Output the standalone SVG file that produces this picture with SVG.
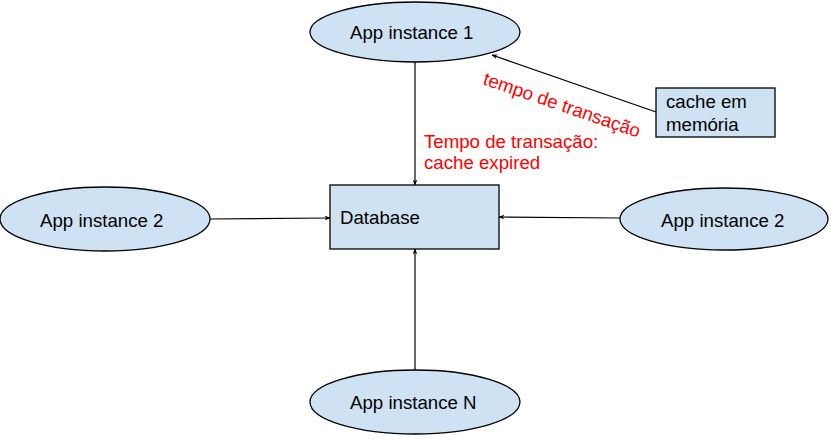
<svg xmlns="http://www.w3.org/2000/svg" width="831" height="442" viewBox="0 0 831 442">
<style>
.node{fill:#cfe2f3;stroke:#000;stroke-width:1.3}
.lbl{font-family:"Liberation Sans",Arial,sans-serif;font-size:18.67px;fill:#000}
.red{font-family:"Liberation Sans",Arial,sans-serif;font-size:18.67px;fill:#ff0000}
.edge{stroke:#000;stroke-width:1.2;fill:none;marker-end:url(#ah)}
</style>
<defs>
<marker id="ah" viewBox="0 0 10 10" refX="9" refY="5" markerWidth="6" markerHeight="6" markerUnits="userSpaceOnUse" orient="auto">
<path d="M0,1 L10,5 L0,9 L3,5 Z" fill="#000"/>
</marker>
</defs>
<rect width="831" height="442" fill="#fff"/>
<g id="connectors">
<line class="edge" x1="415" y1="62" x2="415" y2="185"/>
<line class="edge" x1="210" y1="219" x2="330" y2="218"/>
<line class="edge" x1="620" y1="218" x2="499" y2="217"/>
<line class="edge" x1="415" y1="370" x2="415" y2="249"/>
<line class="edge" x1="656" y1="112" x2="492" y2="55"/>
</g>
<g id="app1">
<ellipse class="node" cx="415" cy="32" rx="105" ry="30"/>
<text class="lbl" x="350" y="39">App instance 1</text>
</g>
<g id="app2left">
<ellipse class="node" cx="105" cy="219" rx="105" ry="32"/>
<text class="lbl" x="40" y="227">App instance 2</text>
</g>
<g id="database">
<rect class="node" x="330" y="185" width="169" height="64"/>
<text class="lbl" x="340" y="224">Database</text>
</g>
<g id="app2right">
<ellipse class="node" cx="724" cy="219" rx="104" ry="31"/>
<text class="lbl" x="661" y="227">App instance 2</text>
</g>
<g id="appN">
<ellipse class="node" cx="415" cy="402" rx="105" ry="32"/>
<text class="lbl" x="350" y="409">App instance N</text>
</g>
<g id="cache">
<rect class="node" x="656" y="88" width="119" height="49"/>
<text class="lbl" x="666" y="108">cache em</text>
<text class="lbl" x="666" y="131">memória</text>
</g>
<g id="labels">
<text class="red" x="482" y="84" transform="rotate(19 482 84)">tempo de transação</text>
<text class="red" x="424" y="148">Tempo de transação:</text>
<text class="red" x="424" y="169">cache expired</text>
</g>
</svg>
